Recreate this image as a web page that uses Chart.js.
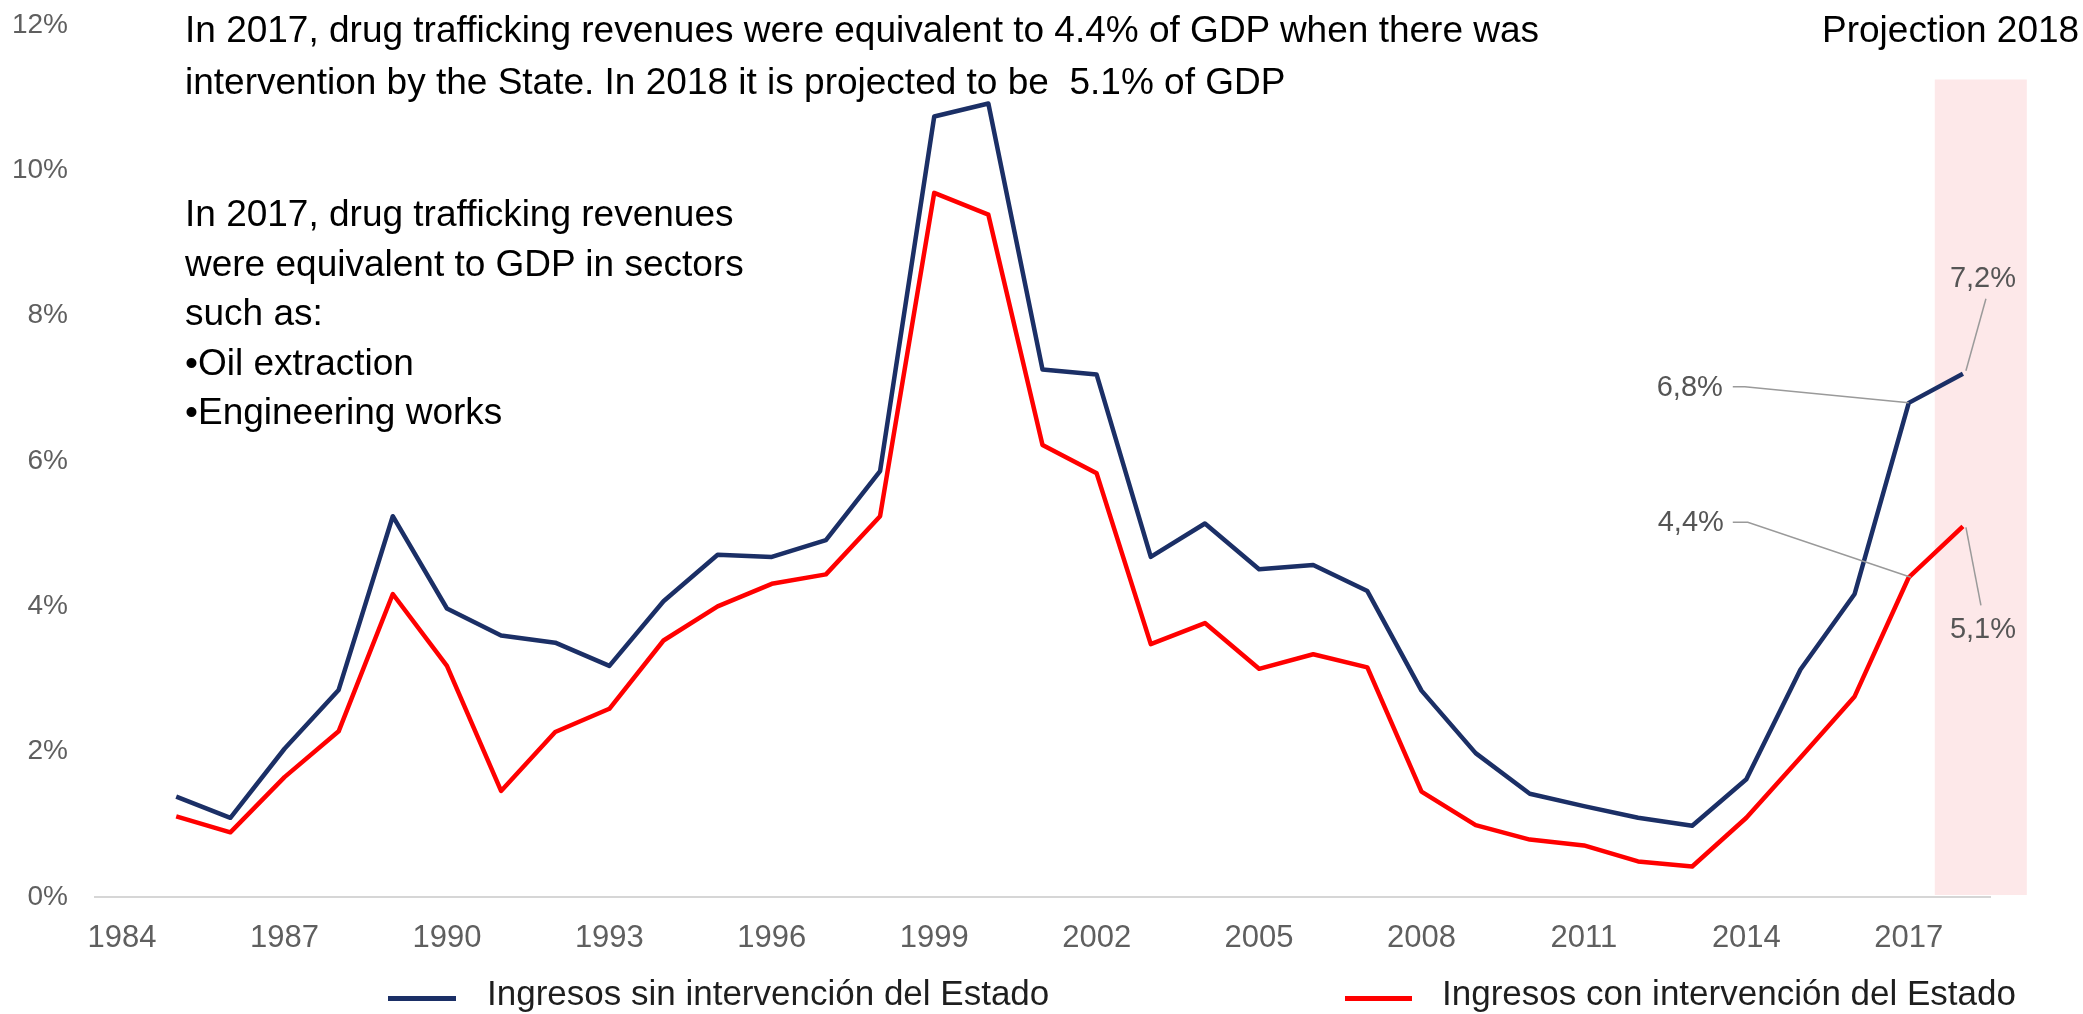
<!DOCTYPE html>
<html>
<head>
<meta charset="utf-8">
<script src="https://cdn.jsdelivr.net/npm/chart.js@4.4.1/dist/chart.umd.min.js"></script>
<style>
html,body{margin:0;padding:0;background:#fff;}
#wrap{position:relative;width:2083px;height:1014px;overflow:hidden;font-family:"Liberation Sans",Arial,sans-serif;}
#chart{position:absolute;left:0;top:0;}
.note{position:absolute;color:#000;font-size:37px;white-space:nowrap;}
.leg{position:absolute;font-size:35px;line-height:40px;color:#1e1e1e;white-space:nowrap;}
.sw{position:absolute;height:5px;}
</style>
</head>
<body>
<div id="wrap">
  <canvas id="chart" width="2083" height="1014"></canvas>
  <div class="note" style="left:185px;top:4px;line-height:52px;">In 2017, drug trafficking revenues were equivalent to 4.4% of GDP when there was<br>intervention by the State. In 2018 it is projected to be&nbsp; 5.1% of GDP</div>
  <div class="note" style="left:185px;top:189px;line-height:49.5px;">In 2017, drug trafficking revenues<br>were equivalent to GDP in sectors<br>such as:<br>•Oil extraction<br>•Engineering works</div>
  <div class="note" style="left:1822px;top:4px;line-height:52px;">Projection 2018</div>
  <div class="sw" id="sw0" style="left:388px;top:996px;width:68px;"></div>
  <div class="leg" id="lg0" style="left:487px;top:973px;"></div>
  <div class="sw" id="sw1" style="left:1345px;top:996px;width:67px;"></div>
  <div class="leg" id="lg1" style="left:1442px;top:973px;"></div>
</div>
<script>
// ---- data ----
const years = [1985,1986,1987,1988,1989,1990,1991,1992,1993,1994,1995,1996,1997,1998,1999,2000,2001,2002,2003,2004,2005,2006,2007,2008,2009,2010,2011,2012,2013,2014,2015,2016,2017,2018];
const sinIntervencion = [1.38,1.09,2.04,2.85,5.24,3.97,3.60,3.50,3.18,4.07,4.71,4.68,4.91,5.86,10.74,10.92,7.26,7.19,4.68,5.14,4.51,4.57,4.21,2.84,1.98,1.42,1.25,1.09,0.98,1.62,3.13,4.17,6.8,7.2];
const conIntervencion = [1.11,0.89,1.65,2.28,4.17,3.18,1.46,2.27,2.59,3.53,4.00,4.31,4.44,5.24,9.69,9.39,6.22,5.83,3.48,3.77,3.14,3.34,3.16,1.45,0.99,0.79,0.71,0.49,0.42,1.09,1.92,2.76,4.4,5.1];
const seriesNames = ["Ingresos sin intervención del Estado","Ingresos con intervención del Estado"];
const xTickYears = [1984,1987,1990,1993,1996,1999,2002,2005,2008,2011,2014,2017];
const yTicks = [0,2,4,6,8,10,12];
const labelledYears = [2017,2018];
const projectionRange = [2017.48, 2019.18];
const projectionTop = 11.25;

// ---- styles ----
const NAVY = '#1b2f66';
const RED = '#ff0000';
const FONT = '"Liberation Sans", Arial, sans-serif';

document.getElementById('sw0').style.background = NAVY;
document.getElementById('sw1').style.background = RED;
document.getElementById('lg0').textContent = seriesNames[0];
document.getElementById('lg1').textContent = seriesNames[1];

const toXY = arr => years.map((y,i)=>({x:y, y:arr[i]}));

// label placements relative to the data point (dataset index, year)
const labelPlacement = {
  '0-2017': {dx:-219, dy:-15, leader:[[-176,-16],[-164,-16],[0,0]]},
  '0-2018': {dx:20, dy:-95, leader:[[23,-75],[3,-3]]},
  '1-2017': {dx:-218, dy:-54, leader:[[-176,-55],[-161,-55],[2,0]]},
  '1-2018': {dx:20, dy:104, leader:[[3,1],[18,79]]}
};

const bandPlugin = {
  id:'band',
  beforeDatasetsDraw(chart){
    const {ctx, scales:{x,y}} = chart;
    const x0 = x.getPixelForValue(projectionRange[0]);
    const x1 = x.getPixelForValue(projectionRange[1]);
    const yT = y.getPixelForValue(projectionTop);
    const yB = y.getPixelForValue(0) - 2;
    ctx.save();
    ctx.fillStyle = '#fde8e9';
    ctx.fillRect(x0, yT, x1-x0, yB-yT);
    ctx.restore();
  }
};

const labelPlugin = {
  id:'valLabels',
  afterDatasetsDraw(chart){
    const {ctx} = chart;
    ctx.save();
    chart.data.datasets.forEach((ds, di)=>{
      const meta = chart.getDatasetMeta(di);
      labelledYears.forEach(yr=>{
        const idx = years.indexOf(yr);
        const pt = meta.data[idx];
        const pl = labelPlacement[di+'-'+yr];
        if(!pt || !pl) return;
        ctx.strokeStyle = '#9a9a9a';
        ctx.lineWidth = 1.5;
        ctx.beginPath();
        pl.leader.forEach((p,k)=>{
          const px = pt.x + p[0], py = pt.y + p[1];
          if(k===0) ctx.moveTo(px,py); else ctx.lineTo(px,py);
        });
        ctx.stroke();
        const v = ds.data[idx].y;
        ctx.fillStyle = '#555555';
        ctx.font = '29px ' + FONT;
        ctx.textAlign = 'center';
        ctx.textBaseline = 'middle';
        ctx.fillText(v.toFixed(1).replace('.', ',') + '%', pt.x + pl.dx, pt.y + pl.dy);
      });
    });
    ctx.restore();
  }
};

new Chart(document.getElementById('chart'), {
  type:'line',
  data:{
    datasets:[
      {label:seriesNames[0], data:toXY(sinIntervencion), borderColor:NAVY, backgroundColor:NAVY, borderWidth:4.5, pointRadius:0, tension:0, borderJoinStyle:'round'},
      {label:seriesNames[1], data:toXY(conIntervencion), borderColor:RED, backgroundColor:RED, borderWidth:4.5, pointRadius:0, tension:0, borderJoinStyle:'round'}
    ]
  },
  options:{
    responsive:false,
    devicePixelRatio:1,
    animation:false,
    events:[],
    layout:{padding:{left:0, right:93, top:25, bottom:63}},
    plugins:{legend:{display:false}, tooltip:{enabled:false}},
    scales:{
      x:{
        type:'linear', min:1983.5, max:2018.5,
        afterBuildTicks(scale){ scale.ticks = xTickYears.map(v=>({value:v})); },
        afterFit(scale){ scale.height = 54; scale.paddingLeft = 0; scale.paddingRight = 0; },
        grid:{display:false, drawTicks:false},
        border:{display:true, color:'#d6d6d6', width:2},
        ticks:{padding:23, color:'#5f5f5f', font:{family:FONT, size:31}, maxRotation:0, autoSkip:false, callback:v=>String(v)}
      },
      y:{
        type:'linear', min:0, max:12,
        afterBuildTicks(scale){ scale.ticks = yTicks.map(v=>({value:v})); },
        afterFit(scale){ scale.width = 95; scale.paddingTop = 0; scale.paddingBottom = 0; },
        grid:{display:false, drawTicks:false},
        border:{display:false},
        ticks:{padding:27, color:'#5f5f5f', font:{family:FONT, size:28}, callback:v=>v+'%'}
      }
    }
  },
  plugins:[bandPlugin, labelPlugin]
});
</script>
</body>
</html>
